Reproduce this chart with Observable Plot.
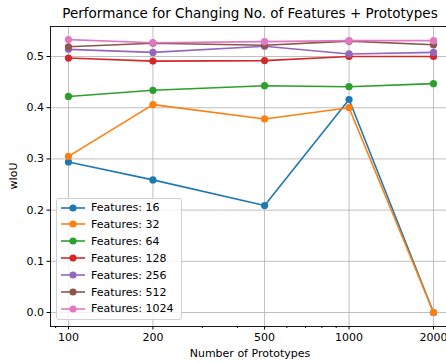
<!DOCTYPE html>
<html><head><meta charset="utf-8">
<script src="https://cdn.jsdelivr.net/npm/d3@7"></script>
<script src="https://cdn.jsdelivr.net/npm/@observablehq/plot@0.6"></script>
<style>
body{margin:0;background:#fff;font-family:"DejaVu Sans",sans-serif;}
#c{position:relative;width:446px;height:363px;overflow:hidden;background:#fff}
#c svg{position:absolute;left:0;top:0}
.t{position:absolute;white-space:nowrap;color:#000;line-height:1}
</style>
</head><body><div id="c"></div>
<script>
const prototypes = [100, 200, 500, 1000, 2000];
const featureLabels = ["Features: 16","Features: 32","Features: 64","Features: 128","Features: 256","Features: 512","Features: 1024"];
const colors = ["#1f77b4","#ff7f0e","#2ca02c","#d62728","#9467bd","#8c564b","#e377c2"];
const f16   = [0.294, 0.259, 0.209, 0.416, 0.000];
const f32   = [0.305, 0.406, 0.378, 0.400, 0.000];
const f64   = [0.422, 0.434, 0.443, 0.441, 0.447];
const f128  = [0.497, 0.491, 0.492, 0.500, 0.500];
const f256  = [0.514, 0.508, 0.520, 0.505, 0.508];
const f512  = [0.519, 0.526, 0.522, 0.530, 0.523];
const f1024 = [0.533, 0.527, 0.529, 0.531, 0.531];
const seriesValues = [f16, f32, f64, f128, f256, f512, f1024];
const xTicks = [100, 200, 500, 1000, 2000];
const xMinorTicks = [90, 300, 400, 600, 700, 800, 900];
const yTicks = [0.0, 0.1, 0.2, 0.3, 0.4, 0.5];

const W = 446, H = 363;
const marks = [
  Plot.gridX(xTicks, {stroke: "#b0b0b0", strokeOpacity: 1, strokeWidth: 0.8}),
  Plot.gridY(yTicks, {stroke: "#b0b0b0", strokeOpacity: 1, strokeWidth: 0.8}),
];
seriesValues.forEach((vals, i) => {
  const data = prototypes.map((p, j) => ({x: p, y: vals[j]}));
  marks.push(Plot.line(data, {x: "x", y: "y", stroke: colors[i], strokeWidth: 1.6}));
  marks.push(Plot.dot(data, {x: "x", y: "y", fill: colors[i], r: 3.6}));
});
marks.push(
  Plot.axisX({ticks: xTicks, tickFormat: d => String(d), tickSize: 3.5, tickPadding: 3, fontSize: 11, label: null}),
  Plot.axisX({ticks: xMinorTicks, tickFormat: () => "", tickSize: 2, label: null}),
  Plot.axisY({ticks: yTicks, tickFormat: d3.format(".1f"), tickSize: 3.5, tickPadding: 3, fontSize: 11, label: null}),
  Plot.frame({anchor: "top", stroke: "#000", strokeWidth: 0.9}),
  Plot.frame({anchor: "left", stroke: "#000", strokeWidth: 0.9}),
  Plot.frame({anchor: "bottom", stroke: "#000", strokeWidth: 0.9})
);

const chart = Plot.plot({
  width: W, height: H,
  marginTop: 26, marginBottom: 37, marginLeft: 50, marginRight: 0,
  style: {fontFamily: "DejaVu Sans", fontSize: "11px", color: "#000", background: "transparent"},
  x: {type: "log", domain: [86.3, 2225]},
  y: {domain: [-0.0273, 0.5586]},
  marks
});
const c = document.getElementById("c");
c.appendChild(chart);

function addText(txt, css) {
  const d = document.createElement("div");
  d.className = "t"; d.textContent = txt;
  Object.assign(d.style, css);
  c.appendChild(d);
  return d;
}
// title
const title = addText("Performance for Changing No. of Features + Prototypes", {fontSize: "13.5px", top: "6.5px", left: "250px", transform: "translateX(-50%)"});
// x label
addText("Number of Prototypes", {fontSize: "11px", top: "347.5px", left: "250px", transform: "translateX(-50%)"});
// y label
addText("wIoU", {fontSize: "11px", top: "176px", left: "13px", transform: "translate(-50%,-50%) rotate(-90deg)"});

// legend
const leg = document.createElement("div");
Object.assign(leg.style, {position: "absolute", left: "55.5px", top: "197.5px", width: "124px", height: "120px",
  border: "1px solid #d0d0d0", borderRadius: "3px", background: "rgba(255,255,255,0.8)"});
c.appendChild(leg);
featureLabels.forEach((lab, i) => {
  const cy = 9 + i * 16.9;
  const s = document.createElementNS("http://www.w3.org/2000/svg", "svg");
  s.setAttribute("width", 26); s.setAttribute("height", 10);
  Object.assign(s.style, {position: "absolute", left: "3px", top: (cy - 5) + "px"});
  s.innerHTML = `<line x1="1" y1="5" x2="25" y2="5" stroke="${colors[i]}" stroke-width="1.6"/><circle cx="13" cy="5" r="3.6" fill="${colors[i]}"/>`;
  leg.appendChild(s);
  const t = document.createElement("div");
  t.className = "t"; t.textContent = lab;
  Object.assign(t.style, {fontSize: "11px", left: "34.5px", top: (cy - 5.5) + "px"});
  leg.appendChild(t);
});
</script>
</body></html>
